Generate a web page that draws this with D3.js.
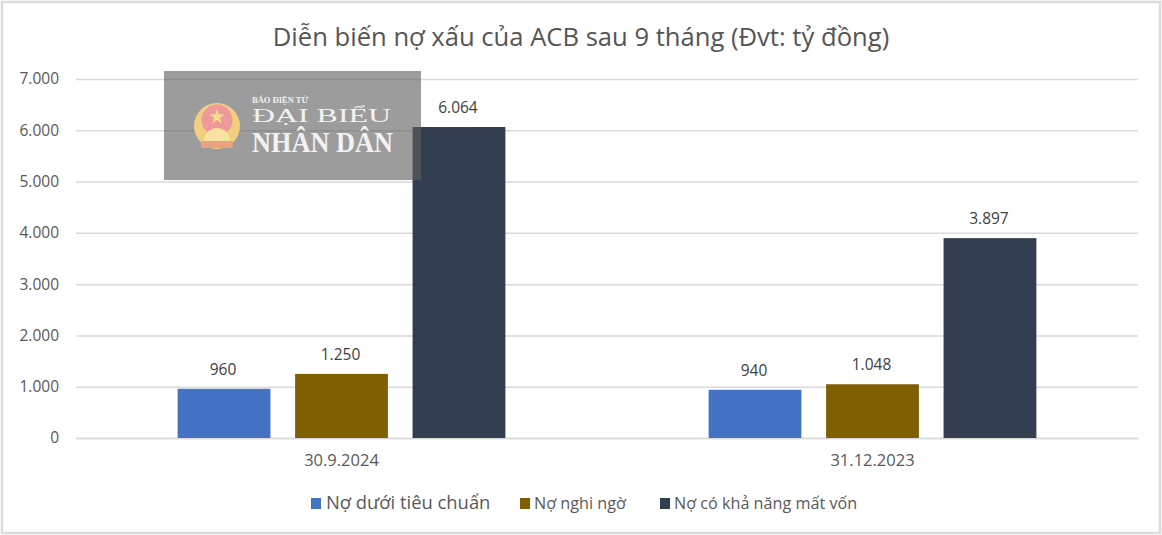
<!DOCTYPE html>
<html><head><meta charset="utf-8">
<script src="https://cdn.jsdelivr.net/npm/d3@7"></script>
<style>html,body{margin:0;padding:0;background:#fff}svg{display:block}text{font-family:"Open Sans","Noto Sans",sans-serif}</style>
</head><body><svg id="c" width="1162" height="535"></svg>
<script>
const categories = ["30.9.2024", "31.12.2023"];
const seriesNames = ["Nợ dưới tiêu chuẩn", "Nợ nghi ngờ", "Nợ có khả năng mất vốn"];
const seriesColors = ["#4472C4", "#7F6000", "#333F50"];
const debtSubstandard = [960, 940];
const debtDoubtful = [1250, 1048];
const debtLoss = [6064, 3897];
const yTicks = [0, 1000, 2000, 3000, 4000, 5000, 6000, 7000];
const titleText = "Diễn biến nợ xấu của ACB sau 9 tháng (Đvt: tỷ đồng)";
const seriesValues = [debtSubstandard, debtDoubtful, debtLoss];
const fmt = v => d3.format(",")(v).replace(/,/g, ".");

const svg = d3.select("#c");
svg.append("rect").attr("x",2).attr("y",2).attr("width",1158).attr("height",531).attr("fill","#fff").attr("stroke","#dcdcdc").attr("stroke-width",2.5);

const x0 = d3.scaleBand().domain(categories).range([76,1138]);
const x1 = d3.scaleBand().domain(d3.range(3)).range([0,x0.bandwidth()]).paddingInner(0.21).paddingOuter(0.865);
const y = d3.scaleLinear().domain([0,7000]).range([438,79]);

svg.append("text").attr("x",581).attr("y",46).attr("text-anchor","middle").attr("font-size",25.6).attr("fill","#555").text(titleText);

const yAxis = d3.axisLeft(y).tickValues(yTicks).tickSize(-(1138-76)).tickFormat(fmt);
const gy = svg.append("g").attr("transform","translate(76,0)").call(yAxis);
gy.select(".domain").remove();
gy.selectAll(".tick line").attr("stroke","#d9d9d9").attr("stroke-width",1.5);
gy.selectAll(".tick text").attr("x",-17).attr("font-size",15.5).attr("fill","#595959");

const xAxis = d3.axisBottom(x0).tickSize(0);
const gx = svg.append("g").attr("transform","translate(0,438)").call(xAxis);
gx.select(".domain").attr("stroke","#d9d9d9").attr("stroke-width",1.5);
gx.selectAll(".tick text").attr("y",16).attr("font-size",16.5).attr("fill","#595959");

seriesValues.forEach((vals,s)=>{
  const g = svg.append("g");
  g.selectAll("rect").data(vals).join("rect")
    .attr("x",(d,i)=>x0(categories[i])+x1(s)).attr("width",x1.bandwidth())
    .attr("y",d=>y(d)).attr("height",d=>y(0)-y(d)).attr("fill",seriesColors[s]);
  g.selectAll("text").data(vals).join("text")
    .attr("x",(d,i)=>x0(categories[i])+x1(s)+x1.bandwidth()/2-1).attr("y",d=>y(d)-14)
    .attr("text-anchor","middle").attr("font-size",15.5).attr("fill","#404040").text(fmt);
});

// watermark
const wm = svg.append("g");
wm.append("rect").attr("x",164).attr("y",71).attr("width",257).attr("height",109).attr("fill","#5f5f5f").attr("fill-opacity",0.62);
wm.append("circle").attr("cx",217).attr("cy",126).attr("r",23).attr("fill","#f2cf7f");
wm.append("circle").attr("cx",217).attr("cy",120).attr("r",15.5).attr("fill","#ee9a9a");
wm.append("path").attr("d",d3.symbol(d3.symbolStar,70)()).attr("transform","translate(217,117)").attr("fill","#f7dc8a");
wm.append("path").attr("d",d3.arc()({innerRadius:0,outerRadius:13,startAngle:-Math.PI/2,endAngle:Math.PI/2})).attr("transform","translate(217,141)").attr("fill","#f8e2a0");
wm.append("rect").attr("x",201).attr("y",141).attr("width",32).attr("height",7).attr("rx",2).attr("fill","#e8a27f");
const serif = '"Liberation Serif",serif';
wm.append("text").attr("x",252).attr("y",103).attr("font-size",8.5).attr("font-weight",700).style("font-family",serif).attr("fill","#f2f2f2").text("BÁO ĐIỆN TỬ");
wm.append("text").attr("x",252).attr("y",122).attr("font-size",18.5).attr("textLength",139).attr("lengthAdjust","spacingAndGlyphs").style("font-family",serif).attr("fill","#f2f2f2").text("ĐẠI BIỂU");
wm.append("text").attr("x",252).attr("y",152).attr("font-size",30).attr("font-weight",700).attr("textLength",141).attr("lengthAdjust","spacingAndGlyphs").style("font-family",serif).attr("fill","#f2f2f2").text("NHÂN DÂN");

// legend
const legendX = [311,520,660], legendText=[326,534,674], legendSize=[18.4,16.2,16.2];
seriesNames.forEach((n,i)=>{
  svg.append("rect").attr("x",legendX[i]).attr("y",498).attr("width",10).attr("height",11).attr("fill",seriesColors[i]);
  svg.append("text").attr("x",legendText[i]).attr("y",509).attr("font-size",legendSize[i]).attr("fill","#595959").text(n);
});
</script></body></html>
